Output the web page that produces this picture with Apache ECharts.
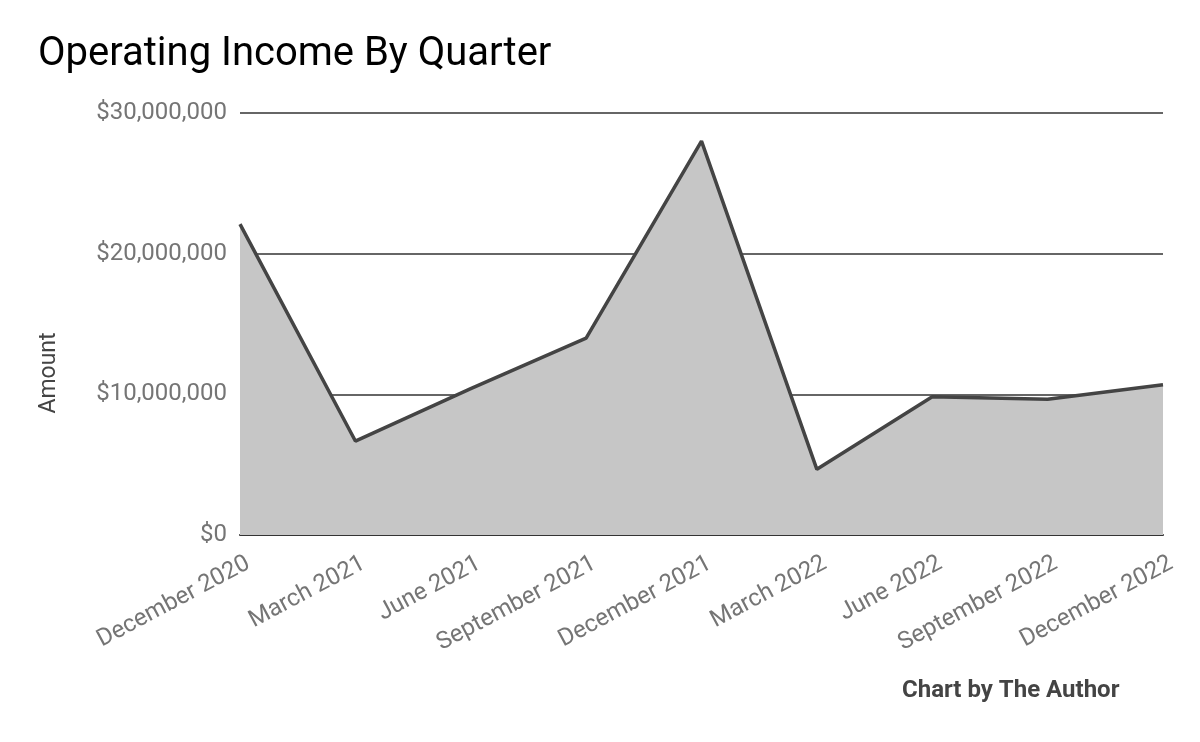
<!DOCTYPE html>
<html>
<head>
<meta charset="utf-8">
<script src="https://cdn.jsdelivr.net/npm/echarts@6/dist/echarts.min.js"></script>
<style>
html,body{margin:0;padding:0;background:#fff;}
#chart{width:1200px;height:742px;}
</style>
</head>
<body>
<div id="chart"></div>
<script>
const categories = ["December 2020","March 2021","June 2021","September 2021","December 2021","March 2022","June 2022","September 2022","December 2022"];
const operatingIncome = [22100000, 6680000, 10400000, 14000000, 28000000, 4670000, 9830000, 9650000, 10680000];
const yTicks = [0, 10000000, 20000000, 30000000];

const chart = echarts.init(document.getElementById('chart'));
function fmt(v){ return '$' + v.toLocaleString('en-US'); }
chart.setOption({
  backgroundColor: '#ffffff',
  animation: false,
  title: [
    { text: 'Operating Income By Quarter', left: 33, top: 30,
      textStyle: { fontFamily: 'Roboto', fontSize: 40, fontWeight: 'normal', color: '#000000' } },
    { text: 'Chart by The Author', left: 897, top: 674,
      textStyle: { fontFamily: 'Roboto', fontSize: 24, fontWeight: 'bold', color: '#444444' } }
  ],
  graphic: [{
    type: 'text',
    x: 49, y: 373,
    rotation: Math.PI / 2,
    style: { text: 'Amount', fontFamily: 'Roboto', fontSize: 23, fill: '#444444', align: 'center', verticalAlign: 'middle' }
  }],
  grid: { left: 240, right: 37, top: 113, bottom: 207 },
  xAxis: {
    type: 'category',
    data: categories,
    boundaryGap: false,
    axisLine: { show: true, lineStyle: { color: '#333333', width: 2 } },
    axisTick: { show: false },
    axisLabel: { rotate: 28, color: '#757575', fontFamily: 'Roboto', fontSize: 24, margin: 18, interval: 0,
                 align: 'right', verticalAlign: 'top', padding: [0, -3, 0, 0] },
    splitLine: { show: false }
  },
  yAxis: {
    type: 'value',
    min: yTicks[0],
    max: yTicks[yTicks.length - 1],
    interval: 10000000,
    axisLine: { show: false },
    axisTick: { show: false },
    axisLabel: { color: '#757575', fontFamily: 'Roboto', fontSize: 24, margin: 13, formatter: fmt },
    splitLine: { show: true, lineStyle: { color: '#333333', width: 1.5 } }
  },
  series: [{
    type: 'line',
    data: operatingIncome,
    symbol: 'none',
    lineStyle: { color: '#444444', width: 3.5 },
    areaStyle: { color: '#c6c6c6', opacity: 1 },
    z: 1
  }]
});
</script>
</body>
</html>
